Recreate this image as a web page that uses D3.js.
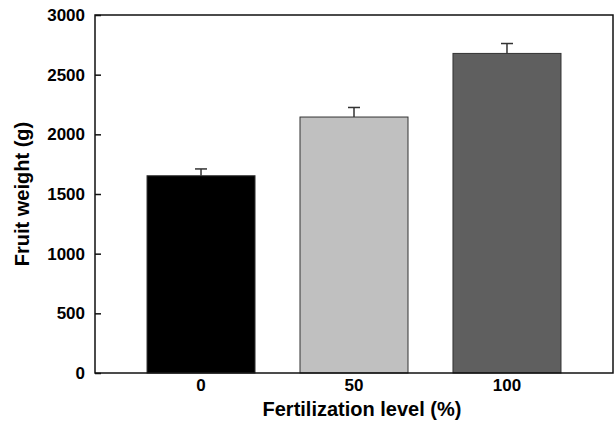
<!DOCTYPE html>
<html>
<head>
<meta charset="utf-8">
<script src="https://cdn.jsdelivr.net/npm/d3@7"></script>
<style>
  body { margin: 0; background: #fff; }
  text { font-family: "Liberation Sans", Arial, sans-serif; font-weight: bold; }
</style>
</head>
<body>
<svg id="chart" width="616" height="421"></svg>
<script>
// data
const levels = ['0', '50', '100'];
const weights = [1653, 2145, 2678];
const errors = [57, 80, 83];
const fills = ['#000000', '#c0c0c0', '#5f5f5f'];
const yTicks = [0, 500, 1000, 1500, 2000, 2500, 3000];

const svg = d3.select('#chart');
const m = { left: 95, right: 613, top: 15, bottom: 373 };

const x = d3.scaleBand().domain(levels)
  .range([m.left, m.right]).paddingInner(0.294).paddingOuter(0.34);
const y = d3.scaleLinear().domain([0, 3000]).range([m.bottom, m.top]);

// bars
svg.append('g').selectAll('rect')
  .data(levels)
  .join('rect')
  .attr('x', d => x(d))
  .attr('y', (d, i) => y(weights[i]))
  .attr('width', x.bandwidth())
  .attr('height', (d, i) => y(0) - y(weights[i]))
  .attr('fill', (d, i) => fills[i])
  .attr('stroke', '#333')
  .attr('stroke-width', 1);

// error bars (upper half only)
const eb = svg.append('g').attr('stroke', '#333').attr('stroke-width', 1.5);
levels.forEach((d, i) => {
  const cx = x(d) + x.bandwidth() / 2;
  eb.append('line').attr('x1', cx).attr('x2', cx)
    .attr('y1', y(weights[i])).attr('y2', y(weights[i] + errors[i]));
  eb.append('line').attr('x1', cx - 6).attr('x2', cx + 6)
    .attr('y1', y(weights[i] + errors[i])).attr('y2', y(weights[i] + errors[i]));
});

// frame
svg.append('rect')
  .attr('x', m.left).attr('y', m.top)
  .attr('width', m.right - m.left).attr('height', m.bottom - m.top)
  .attr('fill', 'none').attr('stroke', '#111').attr('stroke-width', 1.5);

// y axis, ticks inward
const yAxis = svg.append('g')
  .attr('transform', `translate(${m.left},0)`)
  .call(d3.axisLeft(y).tickValues(yTicks).tickFormat(d3.format('d')).tickSize(-6).tickPadding(10));
yAxis.select('.domain').remove();
yAxis.selectAll('line').attr('stroke', '#111').attr('stroke-width', 1.5);
yAxis.selectAll('text').attr('font-size', 17).attr('fill', '#000');

// x axis labels, no ticks
const xAxis = svg.append('g')
  .attr('transform', `translate(0,${m.bottom})`)
  .call(d3.axisBottom(x).tickSize(0).tickPadding(6));
xAxis.select('.domain').remove();
xAxis.selectAll('text').attr('font-size', 17).attr('fill', '#000');

// axis titles
svg.append('text')
  .attr('x', 362).attr('y', 416)
  .attr('text-anchor', 'middle').attr('font-size', 20)
  .text('Fertilization level (%)');
svg.append('text')
  .attr('transform', `translate(29,${(m.top + m.bottom) / 2}) rotate(-90)`)
  .attr('text-anchor', 'middle').attr('font-size', 20)
  .text('Fruit weight (g)');
</script>
</body>
</html>
